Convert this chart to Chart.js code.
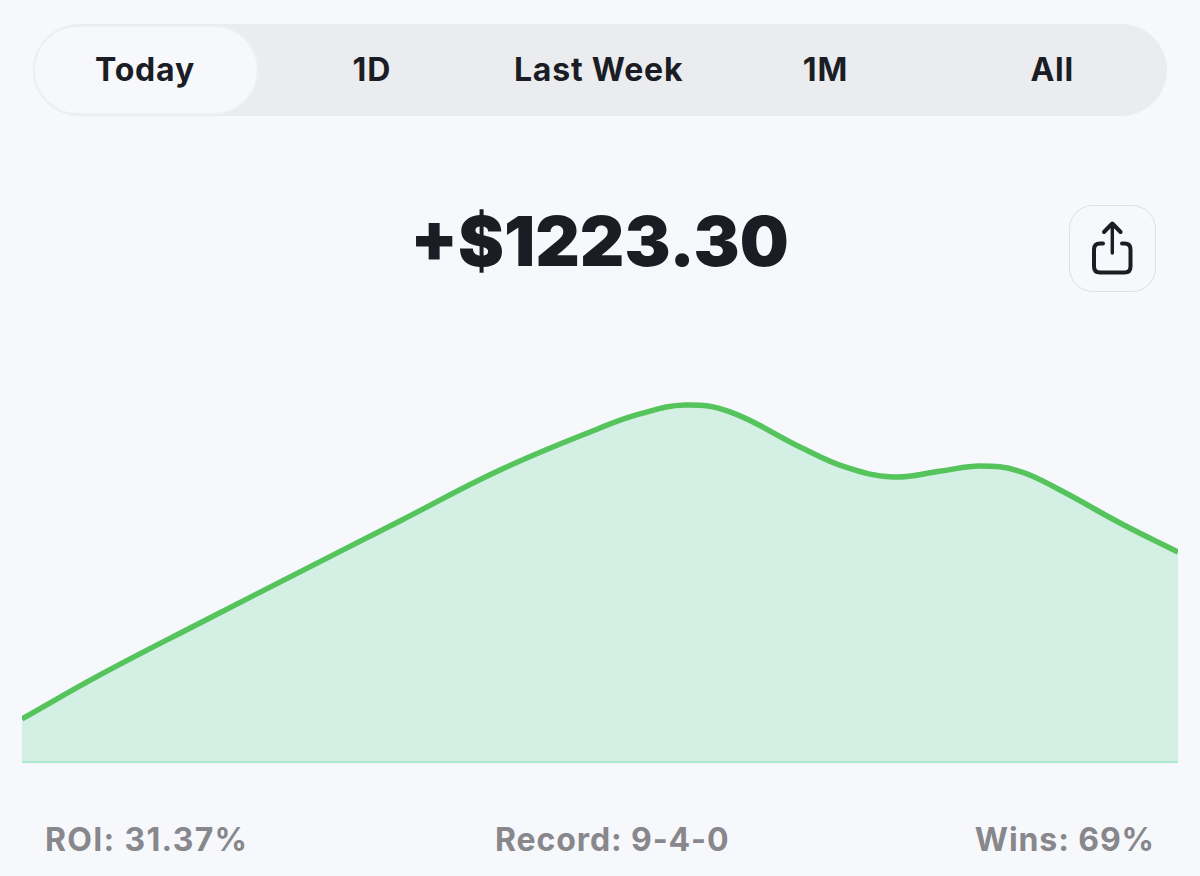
<!DOCTYPE html>
<html>
<head>
<meta charset="utf-8">
<title>Profit</title>
<script src="https://cdn.jsdelivr.net/npm/chart.js@4/dist/chart.umd.min.js"></script>
<style>
  html, body { margin: 0; padding: 0; background: #f7f8fc; }
  body { position: relative; width: 1200px; height: 876px; overflow: hidden; font-family: Inter, sans-serif; }
  .tabs { position: absolute; left: 33px; top: 24px; width: 1134px; height: 92px; border-radius: 46px; background: #ebecf0; }
  .pill { position: absolute; left: 0; top: 1px; width: 226px; height: 90px; box-sizing: border-box; background: #f7f8fc; border-radius: 45px; border: 2px solid #eeeff2; }
  .labels { position: absolute; left: -1.4px; top: 0; display: flex; }
  .tab { width: 226.8px; text-align: center; line-height: 91px; font-size: 32px; font-weight: 700; color: #1c1d24; letter-spacing: 0.8px; }
  .total { position: absolute; left: 0; width: 1199px; top: 199px; text-align: center; font-size: 69px; line-height: 84px; font-weight: 900; color: #1c1d24; }
  .share { position: absolute; left: 1069px; top: 205px; width: 87px; height: 87px; box-sizing: border-box; border: 1.5px solid #dfe0e5; border-radius: 24px; }
  .share svg { position: absolute; left: -1px; top: -1px; }
  .chart-box { position: absolute; left: 22px; top: 361px; width: 1156px; height: 403px; }
  .stat { position: absolute; top: 820px; font-size: 32px; line-height: 40px; font-weight: 700; color: #87878c; white-space: nowrap; }
</style>
</head>
<body>
<div class="tabs"><div class="pill"></div><div class="labels" id="tabs"></div></div>
<div class="total" id="total"></div>
<div class="share">
  <svg width="88" height="88" viewBox="0 0 88 88" fill="none" stroke="#1c1d24" stroke-width="4" stroke-linecap="round" stroke-linejoin="round">
    <path d="M34 38.5 H31 Q25 38.5 25 44.5 V61.5 Q25 67.5 31 67.5 H55.5 Q61.5 67.5 61.5 61.5 V44.5 Q61.5 38.5 55.5 38.5 H53"/>
    <path d="M43.3 48 V19" stroke-width="3.4"/>
    <path d="M35 27 L43.3 18.5 L51.6 27"/>
  </svg>
</div>
<div class="chart-box"><canvas id="profitChart"></canvas></div>
<div class="stat" id="roi" style="left:45px;letter-spacing:1.3px"></div>
<div class="stat" id="record" style="left:495px;letter-spacing:0.9px"></div>
<div class="stat" id="wins" style="right:45px;letter-spacing:0.9px"></div>

<script>
const tabLabels = ['Today', '1D', 'Last Week', '1M', 'All'];
const totalLabel = '+$1223.30';
const roiLabel = 'ROI: 31.37%';
const recordLabel = 'Record: 9-4-0';
const winsLabel = 'Wins: 69%';

// running profit through the day, last point is the headline total
const minutes = [0, 78, 178, 278, 378, 478, 578, 618, 663, 708, 778, 823, 871, 919, 958, 997, 1038, 1098, 1156];
const profit = [246, 504, 808, 1107, 1405, 1703, 1949, 2031, 2083, 2043, 1838, 1721, 1662, 1697, 1727, 1697, 1586, 1393, 1223.3];

document.getElementById('tabs').innerHTML = tabLabels.map((t) => `<div class="tab">${t}</div>`).join('');
document.getElementById('total').textContent = totalLabel;
document.getElementById('roi').textContent = roiLabel;
document.getElementById('record').textContent = recordLabel;
document.getElementById('wins').textContent = winsLabel;

new Chart(document.getElementById('profitChart'), {
  type: 'line',
  data: {
    datasets: [
      {
        data: minutes.map((m, i) => ({ x: m, y: profit[i] })),
        borderColor: '#56c45c',
        borderWidth: 5.5,
        backgroundColor: '#d4f0e5',
        fill: 'origin',
        tension: 0.4,
        pointRadius: 0
      }
    ]
  },
  options: {
    responsive: true,
    maintainAspectRatio: false,
    animation: false,
    layout: { padding: { top: 0, bottom: 3, left: 0, right: 0 } },
    plugins: { legend: { display: false }, tooltip: { enabled: false } },
    scales: {
      x: {
        type: 'linear',
        min: 0,
        max: 1156,
        grid: { display: false, drawTicks: false },
        ticks: { display: false },
        border: { color: '#aee8cd', width: 3 }
      },
      y: {
        display: false,
        min: 0,
        max: 2341
      }
    }
  }
});
</script>
</body>
</html>
